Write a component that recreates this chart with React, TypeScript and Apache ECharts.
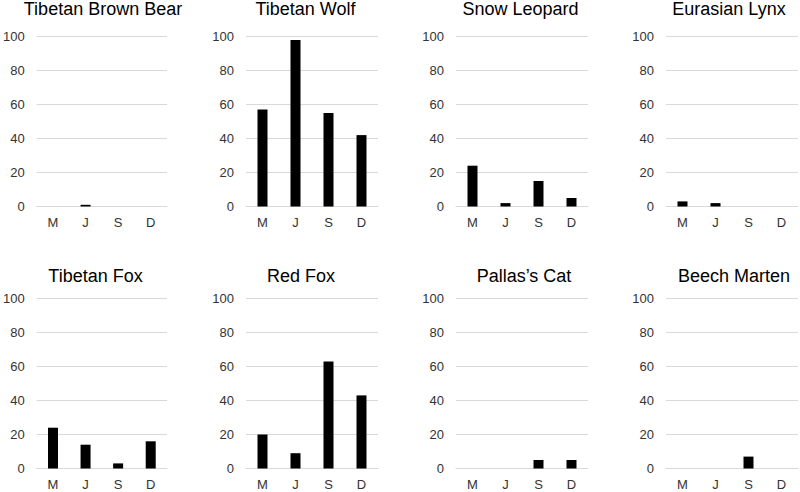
import React, { useEffect, useRef } from "react";
import * as echarts from "echarts";

const months = ["M", "J", "S", "D"];
const yTicks = [0, 20, 40, 60, 80, 100];

const species = [
  "Tibetan Brown Bear",
  "Tibetan Wolf",
  "Snow Leopard",
  "Eurasian Lynx",
  "Tibetan Fox",
  "Red Fox",
  "Pallas\u2019s Cat",
  "Beech Marten",
];

const brownBear = [0, 1, 0, 0];
const tibetanWolf = [57, 98, 55, 42];
const snowLeopard = [24, 2, 15, 5];
const eurasianLynx = [3, 2, 0, 0];
const tibetanFox = [24, 14, 3, 16];
const redFox = [20, 9, 63, 43];
const pallasCat = [0, 0, 5, 5];
const beechMarten = [0, 0, 7, 0];

const seriesValues = [
  brownBear,
  tibetanWolf,
  snowLeopard,
  eurasianLynx,
  tibetanFox,
  redFox,
  pallasCat,
  beechMarten,
];

// layout (pixels)
const gridLefts = [35, 246, 456, 666];
const gridWidth = 132;
const gridTops = [36.5, 298.5];
const gridHeight = 170;
const titleCenters = [
  [103, 305.5, 520.5, 729],
  [95.5, 301, 524, 734],
];
const titleTops = [0, 266.5];

const FONT = "'Liberation Sans', Arial, Helvetica, sans-serif";

export default function App() {
  const ref = useRef<HTMLDivElement>(null);

  useEffect(() => {
    if (!ref.current) return;
    const chart = echarts.init(ref.current, null, { renderer: "svg" });
    const grids: any[] = [];
    const xAxes: any[] = [];
    const yAxes: any[] = [];
    const series: any[] = [];
    const titles: any[] = [];

    species.forEach((name, i) => {
      const row = Math.floor(i / 4);
      const col = i % 4;
      grids.push({
        left: gridLefts[col],
        top: gridTops[row],
        width: gridWidth,
        height: gridHeight,
        containLabel: false,
      });
      xAxes.push({
        type: "category",
        gridIndex: i,
        data: months,
        axisLine: { show: true, lineStyle: { color: "#d9d9d9", width: 1 } },
        axisTick: { show: false },
        axisLabel: {
          color: "#333333",
          fontSize: 13,
          fontFamily: FONT,
          margin: 9,
        },
      });
      yAxes.push({
        type: "value",
        gridIndex: i,
        min: yTicks[0],
        max: yTicks[yTicks.length - 1],
        interval: yTicks[1] - yTicks[0],
        axisLine: { show: false },
        axisTick: { show: false },
        splitLine: { show: true, lineStyle: { color: "#d9d9d9", width: 1 } },
        axisLabel: {
          color: "#333333",
          fontSize: 13,
          fontFamily: FONT,
          margin: 12,
        },
      });
      series.push({
        type: "bar",
        name,
        xAxisIndex: i,
        yAxisIndex: i,
        data: seriesValues[i],
        barWidth: 10,
        itemStyle: { color: "#000000" },
      });
      titles.push({
        text: name,
        left: titleCenters[row][col],
        top: titleTops[row],
        textAlign: "center",
        padding: 0,
        textStyle: {
          fontSize: 18,
          fontWeight: "normal",
          color: "#000000",
          fontFamily: FONT,
        },
      });
    });

    chart.setOption({
      animation: false,
      backgroundColor: "#ffffff",
      title: titles,
      grid: grids,
      xAxis: xAxes,
      yAxis: yAxes,
      series,
    });
    return () => chart.dispose();
  }, []);

  return (
    <div
      ref={ref}
      style={{ position: "fixed", left: 0, top: 0, width: 800, height: 492 }}
    />
  );
}
